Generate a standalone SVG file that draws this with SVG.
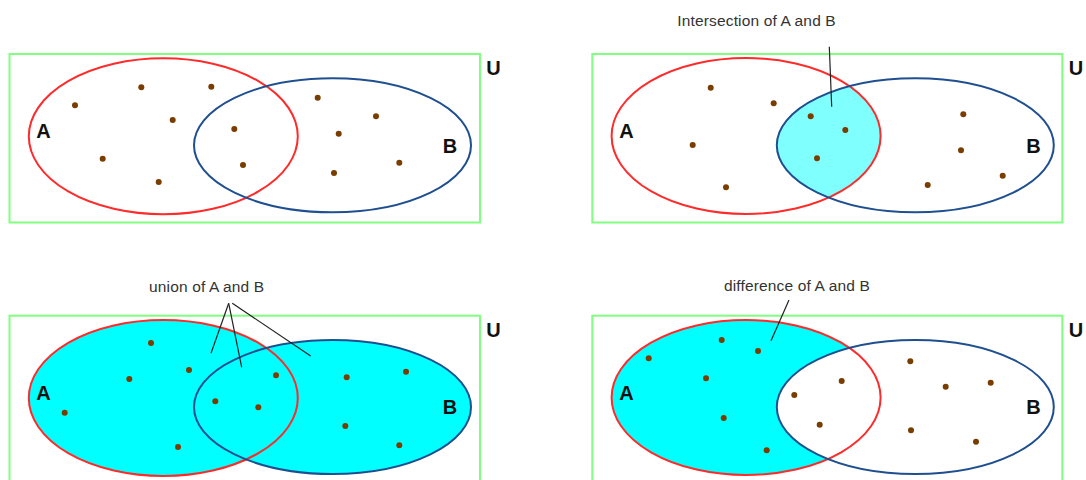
<svg xmlns="http://www.w3.org/2000/svg" width="1086" height="480" viewBox="0 0 1086 480">
<defs>
<style>
.u{fill:none;stroke:#80ff80;stroke-width:2}
.ea{fill:none;stroke:#ff2a2a;stroke-width:2}
.eb{fill:none;stroke:#1f4f8f;stroke-width:2}
.d{fill:#7a3d00}
.lb{font-family:"Liberation Sans",Arial,sans-serif;font-weight:bold;font-size:20px;fill:#111}
.cap{font-family:"Liberation Sans",Arial,sans-serif;font-size:15.5px;letter-spacing:0.15px;fill:#333}
.ld{stroke:#222;stroke-width:1.2;fill:none}
</style>
<clipPath id="clipA2"><ellipse cx="746.1" cy="136" rx="134.5" ry="78"/></clipPath>
</defs>
<rect width="1086" height="480" fill="#fff"/>

<g id="panel-original">
<rect class="u" x="9.5" y="54" width="470.5" height="168.5"/>
<ellipse class="ea" cx="163.3" cy="136.3" rx="134.5" ry="78"/>
<ellipse class="eb" cx="332.5" cy="145.3" rx="138.5" ry="67"/>
<g class="d">
<circle cx="75" cy="105.3" r="3"/><circle cx="141.3" cy="87.3" r="3"/><circle cx="211.3" cy="86.7" r="3"/>
<circle cx="172.7" cy="120" r="3"/><circle cx="234.3" cy="129" r="3"/><circle cx="102.7" cy="158.7" r="3"/>
<circle cx="158.7" cy="182" r="3"/><circle cx="243" cy="165" r="3"/><circle cx="317.7" cy="97.7" r="3"/>
<circle cx="376" cy="116.3" r="3"/><circle cx="338.7" cy="133.7" r="3"/><circle cx="399.3" cy="162.7" r="3"/>
<circle cx="334" cy="173" r="3"/>
</g>
<text class="lb" x="36.3" y="137.8">A</text>
<text class="lb" x="442.8" y="152.5">B</text>
<text class="lb" x="486.3" y="75">U</text>
</g>

<g id="panel-intersection">
<rect class="u" x="592.3" y="54" width="470" height="168.5"/>
<ellipse cx="915.3" cy="145.3" rx="138.5" ry="67" fill="#80ffff" clip-path="url(#clipA2)"/>
<ellipse class="ea" cx="746.1" cy="136" rx="134.5" ry="78"/>
<ellipse class="eb" cx="915.3" cy="145.3" rx="138.5" ry="67"/>
<g class="d">
<circle cx="710.7" cy="87.7" r="3"/><circle cx="773.7" cy="103.3" r="3"/><circle cx="810.7" cy="116.3" r="3"/>
<circle cx="845.3" cy="130" r="3"/><circle cx="692.7" cy="145" r="3"/><circle cx="817" cy="158.3" r="3"/>
<circle cx="726" cy="187.3" r="3"/><circle cx="963.3" cy="114.3" r="3"/><circle cx="961" cy="150.3" r="3"/>
<circle cx="1002.7" cy="175.7" r="3"/><circle cx="927.7" cy="185" r="3"/>
</g>
<text class="lb" x="619.3" y="137.8">A</text>
<text class="lb" x="1026.3" y="152.5">B</text>
<text class="lb" x="1068.8" y="75">U</text>
<text class="cap" x="677.3" y="25.7">Intersection of A and B</text>
</g>

<g id="panel-union">
<rect class="u" x="9.5" y="315.7" width="470.5" height="168.5"/>
<ellipse cx="163.3" cy="398" rx="134.5" ry="78" fill="#00ffff"/>
<ellipse cx="332.5" cy="407" rx="138.5" ry="67" fill="#00ffff"/>
<ellipse class="ea" cx="163.3" cy="398" rx="134.5" ry="78"/>
<ellipse class="eb" cx="332.5" cy="407" rx="138.5" ry="67"/>
<g class="d">
<circle cx="151" cy="343" r="3"/><circle cx="189" cy="370" r="3"/><circle cx="129.3" cy="379" r="3"/>
<circle cx="64.7" cy="412.7" r="3"/><circle cx="178" cy="447" r="3"/><circle cx="276" cy="375.3" r="3"/>
<circle cx="215.3" cy="401.3" r="3"/><circle cx="258.3" cy="407.3" r="3"/><circle cx="346.7" cy="377.3" r="3"/>
<circle cx="406" cy="371.7" r="3"/><circle cx="345.3" cy="426" r="3"/><circle cx="399.3" cy="445.3" r="3"/>
</g>
<text class="lb" x="36.3" y="399.5">A</text>
<text class="lb" x="442.8" y="413.5">B</text>
<text class="lb" x="486.3" y="336.5">U</text>
<text class="cap" x="149" y="291.7">union of A and B</text>
</g>

<g id="panel-difference">
<rect class="u" x="592.3" y="315.7" width="470" height="168.5"/>
<ellipse cx="746.1" cy="397.5" rx="134.5" ry="77.5" fill="#00ffff"/>
<ellipse cx="915.3" cy="407" rx="138.5" ry="67" fill="#ffffff"/>
<ellipse class="ea" cx="746.1" cy="397.5" rx="134.5" ry="77.5"/>
<ellipse class="eb" cx="915.3" cy="407" rx="138.5" ry="67"/>
<g class="d">
<circle cx="721.7" cy="340" r="3"/><circle cx="758" cy="351" r="3"/><circle cx="648.7" cy="358.3" r="3"/>
<circle cx="706" cy="378.3" r="3"/><circle cx="723.7" cy="418" r="3"/><circle cx="766.7" cy="450.3" r="3"/>
<circle cx="841.7" cy="381" r="3"/><circle cx="794.3" cy="395" r="3"/><circle cx="819.7" cy="424.7" r="3"/>
<circle cx="910.3" cy="361.3" r="3"/><circle cx="945.7" cy="386.7" r="3"/><circle cx="990.7" cy="382.7" r="3"/>
<circle cx="911" cy="430.3" r="3"/><circle cx="976" cy="441.7" r="3"/>
</g>
<text class="lb" x="619.3" y="399.5">A</text>
<text class="lb" x="1026.3" y="413.5">B</text>
<text class="lb" x="1068.8" y="336.5">U</text>
<text class="cap" x="724" y="290.7">difference of A and B</text>
</g>

<g id="connectors">
<line class="ld" x1="829.3" y1="46.7" x2="831.7" y2="106.7"/>
<line class="ld" x1="228.7" y1="303.3" x2="211" y2="353.3"/>
<line class="ld" x1="228.7" y1="303.3" x2="241.7" y2="367.3"/>
<line class="ld" x1="232.3" y1="303.3" x2="310.7" y2="356"/>
<line class="ld" x1="789" y1="300" x2="771" y2="340.7"/>
</g>
</svg>
